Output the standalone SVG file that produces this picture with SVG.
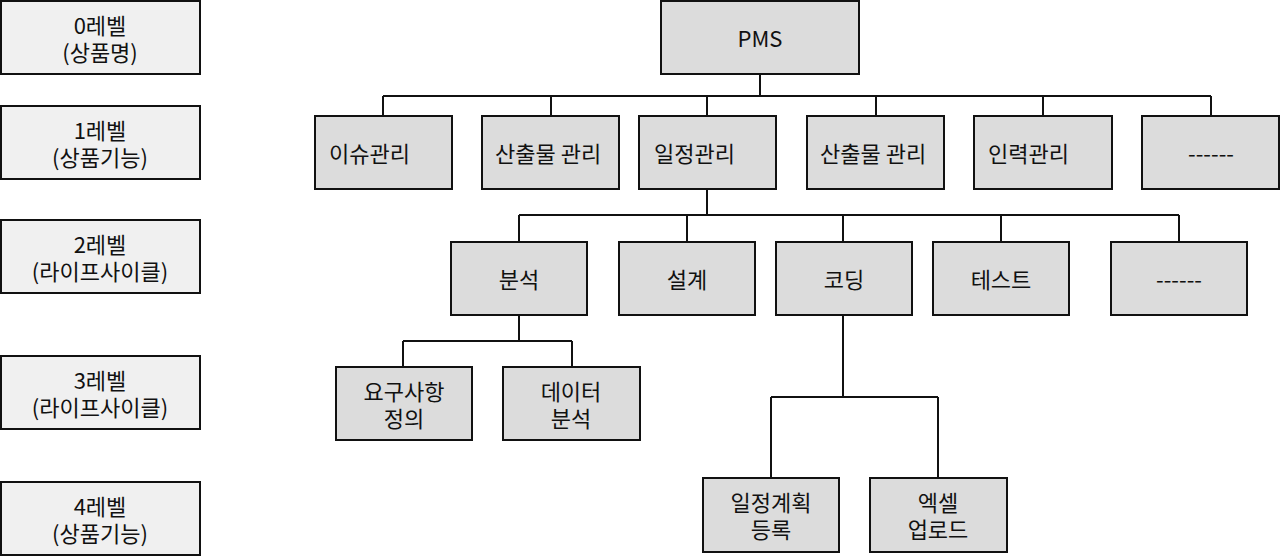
<svg xmlns="http://www.w3.org/2000/svg" width="1280" height="559" viewBox="0 0 1280 559">
<style>
.lvl{fill:#f0f0f0;stroke:#111;stroke-width:2}
.nd{fill:#dcdcdc;stroke:#111;stroke-width:2}
text{font-family:"Malgun Gothic","Noto Sans CJK KR","Noto Sans",sans-serif;font-size:22px;fill:#111}
.c{text-anchor:middle}
.cn{fill:none;stroke:#111;stroke-width:2}
</style>
<rect width="1280" height="559" fill="#fff"/>
<g id="levels">
<g id="lvl0"><rect class="lvl" x="1" y="1" width="199" height="73"/><text class="c" x="100" y="34">0레벨</text><text class="c" x="100" y="61">(상품명)</text></g>
<g id="lvl1"><rect class="lvl" x="1" y="106" width="199" height="73"/><text class="c" x="100" y="139">1레벨</text><text class="c" x="100" y="166">(상품기능)</text></g>
<g id="lvl2"><rect class="lvl" x="1" y="220" width="199" height="73"/><text class="c" x="100" y="253">2레벨</text><text class="c" x="100" y="280">(라이프사이클)</text></g>
<g id="lvl3"><rect class="lvl" x="1" y="356" width="199" height="73"/><text class="c" x="100" y="389">3레벨</text><text class="c" x="100" y="416">(라이프사이클)</text></g>
<g id="lvl4"><rect class="lvl" x="1" y="482" width="199" height="73"/><text class="c" x="100" y="515">4레벨</text><text class="c" x="100" y="542">(상품기능)</text></g>
</g>
<g id="connectors">
<path class="cn" d="M760 74V96M383 96H1211M383 96V116M551 96V116M707 96V116M876 96V116M1043 96V116M1211 96V116"/>
<path class="cn" d="M707 189V215M519 215H1179M519 215V242M687 215V242M843 215V242M1001 215V242M1179 215V242"/>
<path class="cn" d="M519 315V341M403 341H572M403 341V367M572 341V367"/>
<path class="cn" d="M843 315V397M771 397H938M771 397V478M938 397V478"/>
</g>
<g id="pms"><rect class="nd" x="661" y="1" width="198" height="73"/><text class="c" x="760" y="47">PMS</text></g>
<g id="issue"><rect class="nd" x="315" y="116" width="137" height="73"/><text x="329" y="162">이슈관리</text></g>
<g id="output1"><rect class="nd" x="482" y="116" width="137" height="73"/><text x="495" y="162">산출물 관리</text></g>
<g id="schedule"><rect class="nd" x="639" y="116" width="137" height="73"/><text x="654" y="162">일정관리</text></g>
<g id="output2"><rect class="nd" x="807" y="116" width="137" height="73"/><text x="820" y="162">산출물 관리</text></g>
<g id="staff"><rect class="nd" x="974" y="116" width="138" height="73"/><text x="988" y="162">인력관리</text></g>
<g id="more1"><rect class="nd" x="1142" y="116" width="137" height="73"/><text class="c" x="1211" y="162">------</text></g>
<g id="analysis"><rect class="nd" x="451" y="242" width="136" height="73"/><text class="c" x="519" y="288">분석</text></g>
<g id="design"><rect class="nd" x="619" y="242" width="136" height="73"/><text class="c" x="687" y="288">설계</text></g>
<g id="coding"><rect class="nd" x="776" y="242" width="136" height="73"/><text class="c" x="844" y="288">코딩</text></g>
<g id="test"><rect class="nd" x="933" y="242" width="136" height="73"/><text class="c" x="1001" y="288">테스트</text></g>
<g id="more2"><rect class="nd" x="1111" y="242" width="136" height="73"/><text class="c" x="1179" y="288">------</text></g>
<g id="req"><rect class="nd" x="336" y="367" width="136" height="73"/><text class="c" x="404" y="400">요구사항</text><text class="c" x="404" y="427">정의</text></g>
<g id="data"><rect class="nd" x="503" y="367" width="137" height="73"/><text class="c" x="571" y="400">데이터</text><text class="c" x="571" y="427">분석</text></g>
<g id="plan"><rect class="nd" x="703" y="478" width="136" height="74"/><text class="c" x="771" y="511">일정계획</text><text class="c" x="771" y="538">등록</text></g>
<g id="excel"><rect class="nd" x="870" y="478" width="137" height="74"/><text class="c" x="938" y="511">엑셀</text><text class="c" x="938" y="538">업로드</text></g>
</svg>
